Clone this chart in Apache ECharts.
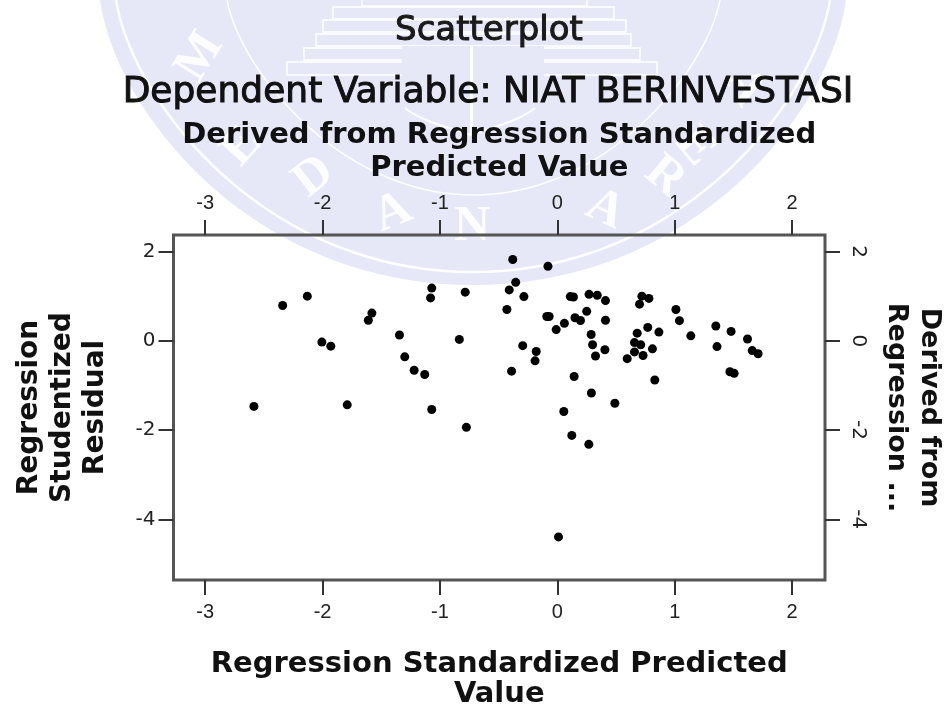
<!DOCTYPE html>
<html><head><meta charset="utf-8">
<script src="https://cdn.jsdelivr.net/npm/echarts@6/dist/echarts.min.js"></script>
<style>html,body{margin:0;padding:0;background:#fff}#c{width:948px;height:706px}</style></head>
<body><div id="c"></div>
<script>
const predicted = [-2.34,-2.13,-1.58,-1.61,-1.345,-2.006,-1.93,-1.30,-1.22,-1.13,-2.585,-1.79,-1.07,-0.775,-1.07,-1.08,-0.785,-0.835,
 -0.38,-0.08,-0.355,-0.41,-0.285,-0.43,-0.09,-0.07,0.11,0.137,0.27,0.34,0.41,0.25,0.41,0.15,0.197,0.06,-0.01,0.288,0.30,0.405,0.325,
 -0.295,-0.18,-0.19,-0.39,0.143,0.29,0.49,0.055,0.123,0.268,0.72,0.78,0.70,0.77,0.865,0.68,0.657,0.71,0.81,0.657,0.73,0.595,0.83,
 1.01,1.04,1.137,1.35,1.48,1.36,1.62,1.66,1.71,1.47,1.506,0.01];
const residual = [0.79,1.00,0.62,0.46,0.13,-0.03,-0.12,-0.36,-0.66,-0.755,-1.47,-1.435,-1.54,-1.94,1.18,0.96,1.09,0.03,
 1.82,1.67,1.31,1.14,0.99,0.70,0.545,0.545,0.99,0.98,1.04,1.02,0.90,0.66,0.46,0.515,0.455,0.39,0.25,0.14,-0.09,-0.20,-0.34,
 -0.11,-0.24,-0.45,-0.68,-0.80,-1.17,-1.40,-1.585,-2.12,-2.32,1.00,0.95,0.82,0.30,0.195,0.17,-0.04,-0.09,-0.18,-0.25,-0.33,-0.40,-0.88,
 0.70,0.45,0.11,0.33,0.21,-0.13,0.04,-0.22,-0.29,-0.695,-0.73,-4.395];
const xTicks = [-3,-2,-1,0,1,2];
const yTicks = [2,0,-2,-4];
const titleMain = "Scatterplot";
const titleSub = "Dependent Variable: NIAT BERINVESTASI";
const xName = "Regression Standardized Predicted\nValue";
const xTopName = "Derived from Regression Standardized\nPredicted Value";
const yName = "Regression\nStudentized\nResidual";
const yRightName = "Derived from\nRegression ...";
const crest = ["M","E","D","A","N","A","R","E","A"];
const crestPos = [[200,57,-58],[242,147,-48],[314,177,-38],[393,213,-22],[472,227,0],[605,210,25],[665,177,40],[695,147,50],[744,87,60]];

const wm = '#e6e8f8';
const g = [];
function curve(p0,c1,c2,p1,n){const o=[];for(let i=0;i<=n;i++){const t=i/n,u=1-t;o.push([u*u*u*p0[0]+3*u*u*t*c1[0]+3*u*t*t*c2[0]+t*t*t*p1[0],u*u*u*p0[1]+3*u*u*t*c1[1]+3*u*t*t*c2[1]+t*t*t*p1[1]]);}return o;}
function shield(xl,xr,bot,cx1,cy1,cx2){const m=(xl+xr)/2;return curve([xl,0],[cx1,cy1],[cx2,bot],[m,bot],40).concat(curve([m,bot],[2*m-cx2,bot],[2*m-cx1,cy1],[xr,0],40));}
g.push({type:'polygon',z:-10,shape:{points:shield(100,846,285,115,110,250)},style:{fill:wm}});
g.push({type:'polyline',z:-9,shape:{points:shield(116,830,272,132,100,262)},style:{fill:'none',stroke:'#fff',lineWidth:2.5}});
g.push({type:'polyline',z:-9,shape:{points:shield(227,720,195,240,70,340)},style:{fill:'none',stroke:'#fff',lineWidth:1.5}});
[[362,-6,225,12],[333,7,281,12],[323,20,303,12],[316,34,315,12],[304,48,336,12],[287,62,370,13]].forEach(r=>{
  g.push({type:'rect',z:-9,shape:{x:r[0],y:r[1],width:r[2],height:r[3]},style:{fill:wm,stroke:'#fff',lineWidth:1.5}});
});
g.push({type:'rect',z:-8,shape:{x:402,y:46,width:142,height:31},style:{fill:wm}});
g.push({type:'rect',z:-8,shape:{x:470,y:45,width:3,height:90},style:{fill:'#fff'}});
g.push({type:'polyline',z:-8,shape:{points:curve([471,135],[440,125],[420,120],[405,108],12)},style:{fill:'none',stroke:'#fff',lineWidth:2}});
g.push({type:'polyline',z:-8,shape:{points:curve([471,135],[500,125],[520,120],[535,108],12)},style:{fill:'none',stroke:'#fff',lineWidth:2}});
crest.forEach((ch,i)=>{
  const p = crestPos[i];
  g.push({type:'text',z:-7,x:p[0],y:p[1],rotation:-p[2]*Math.PI/180,silent:true,
    style:{text:ch,fill:'#fff',font:'bold 50px "Liberation Serif"',textAlign:'center',textVerticalAlign:'middle',opacity:0.9}});
});

const chart = echarts.init(document.getElementById('c'),null,{renderer:'canvas'});
const tick = {show:true,length:15,inside:false,lineStyle:{color:'#333',width:2}};
const line = {show:false,onZero:false};
chart.setOption({
  backgroundColor:'#fff',
  animation:false,
  graphic:g,
  title:[
    {text:titleMain,left:484,top:9,textAlign:'center',textStyle:{fontFamily:'DejaVu Sans',fontSize:34,fontWeight:'normal',color:'#1a1a1a',textBorderColor:'#1a1a1a',textBorderWidth:1}},
    {text:titleSub,left:483,top:70,textAlign:'center',textStyle:{fontFamily:'DejaVu Sans',fontSize:36,fontWeight:'normal',color:'#111',textBorderColor:'#111',textBorderWidth:1}}
  ],
  grid:{left:173.5,right:123,top:235,bottom:126,show:true,borderColor:'#555',borderWidth:3,backgroundColor:'transparent',outerBoundsMode:'none'},
  xAxis:[
    {type:'value',position:'bottom',min:-3.27,max:2.28,splitLine:{show:false},axisLine:line,
     axisTick:{...tick,customValues:xTicks},
     axisLabel:{customValues:xTicks,fontFamily:'Liberation Sans',fontSize:20,color:'#222',margin:22},
     name:xName,nameLocation:'middle',nameGap:69,
     nameTextStyle:{fontFamily:'DejaVu Sans',fontSize:29,fontWeight:'bold',color:'#111',lineHeight:30,align:'center'}},
    {type:'value',position:'top',min:-3.27,max:2.28,splitLine:{show:false},axisLine:line,
     axisTick:{...tick,customValues:xTicks},
     axisLabel:{customValues:xTicks,fontFamily:'Liberation Sans',fontSize:20,color:'#222',margin:22},
     name:xTopName,nameLocation:'middle',nameGap:50,
     nameTextStyle:{fontFamily:'DejaVu Sans',fontSize:29,fontWeight:'bold',color:'#111',lineHeight:33,align:'center'}}
  ],
  yAxis:[
    {type:'value',position:'left',min:-5.36,max:2.37,splitLine:{show:false},axisLine:line,
     axisTick:{...tick,customValues:yTicks},
     axisLabel:{customValues:yTicks,fontFamily:'DejaVu Sans',fontSize:20,color:'#222',margin:18},
     name:yName,nameLocation:'middle',nameGap:61,nameRotate:90,
     nameTextStyle:{fontFamily:'DejaVu Sans',fontSize:28,fontWeight:'bold',color:'#111',lineHeight:33,align:'center'}},
    {type:'value',position:'right',min:-5.36,max:2.37,splitLine:{show:false},axisLine:line,
     axisTick:{...tick,customValues:yTicks},
     axisLabel:{customValues:yTicks,rotate:-90,fontFamily:'DejaVu Sans',fontSize:20,color:'#222',margin:23},
     name:yRightName,nameLocation:'middle',nameGap:55,nameRotate:-90,
     nameTextStyle:{fontFamily:'DejaVu Sans',fontSize:27,fontWeight:'bold',color:'#111',lineHeight:33,align:'center'}}
  ],
  series:[{type:'scatter',xAxisIndex:0,yAxisIndex:0,symbol:'circle',symbolSize:9,
    itemStyle:{color:'#000',opacity:1},
    data:predicted.map((x,i)=>[x,residual[i]])}]
});
</script></body></html>
